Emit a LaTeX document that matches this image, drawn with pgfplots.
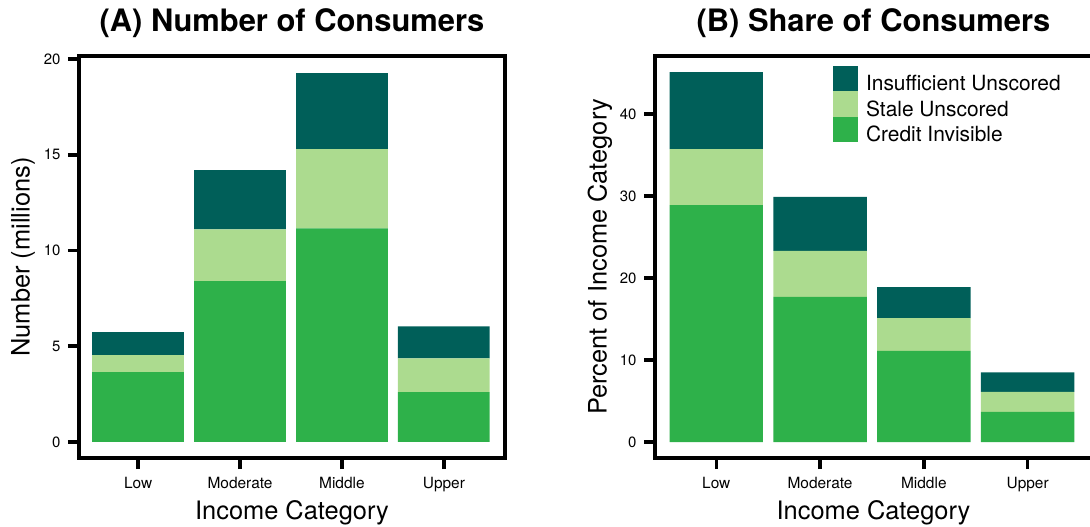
\documentclass[border=0pt]{standalone}
\usepackage{fontspec}
\setmainfont{TeX Gyre Heros}
\usepackage{pgfplots}
\pgfplotsset{compat=1.18}
\usepackage{pgfplotstable}

\definecolor{insuff}{RGB}{0,95,89}
\definecolor{stale}{RGB}{172,219,143}
\definecolor{invis}{RGB}{46,177,74}

% (A) millions of consumers, stacked: invisible, stale, insufficient
\pgfplotstableread{
idx invisible stale insufficient
0   3.65      0.88  1.20
1   8.40      2.70  3.10
2   11.15     4.15  3.97
3   2.60      1.77  1.67
}\numbertable

% (B) percent of income category
\pgfplotstableread{
idx invisible stale insufficient
0   28.9      6.8   9.4
1   17.7      5.6   6.6
2   11.1      4.0   3.8
3   3.66      2.44  2.4
}\sharetable

\pgfplotsset{
  panel/.style={
    scale only axis,
    height=402bp,
    ybar stacked,
    bar width=0.9,
    xtick={0,1,2,3},
    xticklabels={Low,Moderate,Middle,Upper},
    xtick pos=bottom, ytick pos=left,
    tick align=outside,
    major tick length=11bp,
    tick style={line width=3.5bp,black},
    axis line style={line width=3.5bp},
    /pgf/number format/assume math mode=true,
    xticklabel style={font=\fontsize{15.5}{15.5}\selectfont, yshift=-5bp},
    yticklabel style={font=\fontsize{15}{15}\selectfont, xshift=-4bp},
    title style={font=\fontsize{31}{31}\selectfont\bfseries, anchor=base,
      at={(axis description cs:0.5,1.045)}},
    xlabel style={font=\fontsize{25.5}{25.5}\selectfont, anchor=base,
      at={(axis description cs:0.5,-0.154)}},
    ylabel style={font=\fontsize{25.5}{25.5}\selectfont, anchor=center},
    xlabel={Income Category},
  },
}

\begin{document}
\begin{tikzpicture}
\useasboundingbox (0,0) rectangle (1090bp,527bp);

\begin{axis}[panel,
  at={(79bp,69bp)}, anchor=south west,
  width=426bp,
  xmin=-0.58, xmax=3.6,
  ymin=-0.84, ymax=20.16,
  ytick={0,5,10,15,20},
  title={(A) Number of Consumers},
  ylabel={Number (millions)},
  ylabel style={at={(axis description cs:-0.1315,0.5)}},
]
\addplot[fill=invis, draw=none] table[x=idx, y=invisible] {\numbertable};
\addplot[fill=stale, draw=none] table[x=idx, y=stale] {\numbertable};
\addplot[fill=insuff, draw=none] table[x=idx, y=insufficient] {\numbertable};
\end{axis}

\begin{axis}[panel,
  at={(655bp,69bp)}, anchor=south west,
  width=437bp,
  xmin=-0.59, xmax=3.62,
  ymin=-1.95, ymax=47.07,
  ytick={0,10,20,30,40},
  title={(B) Share of Consumers},
  ylabel={Percent of Income Category},
  ylabel style={at={(axis description cs:-0.126,0.5)}},
  reverse legend,
  legend cell align=left,
  legend image code/.code={\fill[#1,draw=none] (0bp,-5.15bp) rectangle (25bp,20.15bp);},
  legend style={at={(axis description cs:0.407,0.975)}, anchor=north west,
    draw=none, fill=none, inner sep=0pt, row sep=-4.5bp, column sep=8bp,
    nodes={inner sep=0pt, text height=14bp, text depth=5bp,
      font=\fontsize{21}{21}\selectfont}},
]
\addplot[fill=invis, draw=none] table[x=idx, y=invisible] {\sharetable};
\addplot[fill=stale, draw=none] table[x=idx, y=stale] {\sharetable};
\addplot[fill=insuff, draw=none] table[x=idx, y=insufficient] {\sharetable};
\legend{Credit Invisible, Stale Unscored, Insufficient Unscored}
\end{axis}
\end{tikzpicture}
\end{document}
